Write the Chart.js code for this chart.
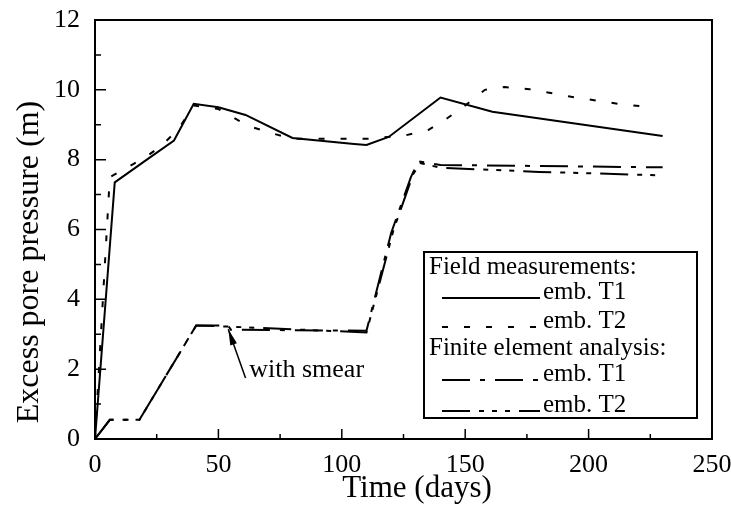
<!DOCTYPE html>
<html>
<head>
<meta charset="utf-8">
<script src="https://cdn.jsdelivr.net/npm/chart.js@4.4.1/dist/chart.umd.min.js"></script>
<style>
  html, body { margin: 0; padding: 0; background: #ffffff; }
  #wrap { width: 731px; height: 514px; }
</style>
</head>
<body>
<div id="wrap"><canvas id="c" width="731" height="514"></canvas></div>
<script>
// ---- Data ----
const fieldT1Days = [0, 8, 20, 32, 40, 50, 61, 80, 105, 110, 119, 140, 161, 230];
const fieldT1Pres = [0, 7.35, 7.95, 8.55, 9.6, 9.5, 9.28, 8.62, 8.45, 8.42, 8.65, 9.78, 9.37, 8.68];

const fieldT2Days = [0, 6, 20, 27, 34, 40, 50, 62, 72, 80, 111, 126, 135, 143, 150, 158, 166, 176, 193, 212, 225];
const fieldT2Pres = [0, 7.5, 8.05, 8.4, 8.9, 9.55, 9.45, 8.97, 8.75, 8.6, 8.6, 8.7, 8.85, 9.2, 9.55, 10.0, 10.08, 10.02, 9.8, 9.6, 9.5];

const feT1Days = [0, 6, 18, 41, 54, 55, 110, 120, 128, 131, 140, 230];
const feT1Pres = [0, 0.55, 0.55, 3.25, 3.25, 3.13, 3.1, 5.9, 7.5, 7.95, 7.85, 7.78];

const feT2Days = [0, 6, 18, 41, 54, 110, 121, 129, 132, 140, 180, 230];
const feT2Pres = [0, 0.55, 0.55, 3.25, 3.22, 3.05, 6.0, 7.6, 7.9, 7.77, 7.65, 7.55];

const xMajorTicks = [0, 50, 100, 150, 200, 250];
const xMinorTicks = [25, 75, 125, 175, 225];
const yMajorTicks = [0, 2, 4, 6, 8, 10, 12];
const yMinorTicks = [1, 3, 5, 7, 9, 11];

const xTitle = 'Time (days)';
const yTitle = 'Excess pore pressure (m)';
const legendHeads = ['Field measurements:', 'Finite element analysis:'];
const legendLabels = ['emb. T1', 'emb. T2', 'emb. T1', 'emb. T2'];
const smearText = 'with smear';
const smearArrowTip = [54, 3.14];
const smearArrowTail = [61, 1.75];
const smearTextAt = [62.5, 1.78];

// ---- Styles ----
const SERIF = "'Liberation Serif', 'Times New Roman', serif";
const dashField2 = [6, 16];
const dashFE1 = [28, 10, 5, 10];
const dashFE2 = [28, 9, 5, 8, 5, 8, 5, 9];

function pts(xs, ys) { return xs.map((x, i) => ({ x: x, y: ys[i] })); }

const framePlugin = {
  id: 'framePlugin',
  afterDatasetsDraw(chart) {
    const ctx = chart.ctx;
    const a = chart.chartArea;
    const xs = chart.scales.x, ys = chart.scales.y;
    ctx.save();
    ctx.strokeStyle = '#000';
    ctx.lineWidth = 2;
    ctx.setLineDash([]);
    ctx.strokeRect(a.left, a.top, a.right - a.left, a.bottom - a.top);
    ctx.lineWidth = 1.5;
    ctx.beginPath();
    xMajorTicks.forEach(v => { const p = xs.getPixelForValue(v); ctx.moveTo(p, a.bottom); ctx.lineTo(p, a.bottom - 10); });
    xMinorTicks.forEach(v => { const p = xs.getPixelForValue(v); ctx.moveTo(p, a.bottom); ctx.lineTo(p, a.bottom - 5); });
    yMajorTicks.forEach(v => { const p = ys.getPixelForValue(v); ctx.moveTo(a.left, p); ctx.lineTo(a.left + 11, p); });
    yMinorTicks.forEach(v => { const p = ys.getPixelForValue(v); ctx.moveTo(a.left, p); ctx.lineTo(a.left + 6, p); });
    ctx.stroke();

    // axis titles
    ctx.fillStyle = '#000';
    ctx.font = '31px ' + SERIF;
    ctx.textAlign = 'center';
    ctx.textBaseline = 'alphabetic';
    ctx.fillText(xTitle, 417, 497);
    ctx.save();
    ctx.translate(38, 262);
    ctx.rotate(-Math.PI / 2);
    ctx.font = '32px ' + SERIF;
    ctx.fillText(yTitle, 0, 0);
    ctx.restore();

    // "with smear" annotation
    const tx = xs.getPixelForValue(smearArrowTip[0]), ty = ys.getPixelForValue(smearArrowTip[1]);
    const sx = xs.getPixelForValue(smearArrowTail[0]), sy = ys.getPixelForValue(smearArrowTail[1]);
    ctx.lineWidth = 1.5;
    ctx.beginPath(); ctx.moveTo(sx, sy); ctx.lineTo(tx, ty); ctx.stroke();
    const ang = Math.atan2(ty - sy, tx - sx);
    ctx.beginPath();
    ctx.moveTo(tx, ty);
    ctx.lineTo(tx - 16 * Math.cos(ang) + 3.5 * Math.sin(ang), ty - 16 * Math.sin(ang) - 3.5 * Math.cos(ang));
    ctx.lineTo(tx - 16 * Math.cos(ang) - 3.5 * Math.sin(ang), ty - 16 * Math.sin(ang) + 3.5 * Math.cos(ang));
    ctx.closePath(); ctx.fill();
    ctx.font = '26px ' + SERIF;
    ctx.textAlign = 'left';
    ctx.fillText(smearText, xs.getPixelForValue(smearTextAt[0]), ys.getPixelForValue(smearTextAt[1]));

    // legend box
    const L = 424, T = 252, R = 697, B = 418;
    ctx.fillStyle = '#fff';
    ctx.fillRect(L, T, R - L, B - T);
    ctx.fillStyle = '#000';
    ctx.lineWidth = 2;
    ctx.strokeRect(L, T, R - L, B - T);
    ctx.font = '25px ' + SERIF;
    ctx.textAlign = 'left';
    ctx.fillText(legendHeads[0], 429, 274);
    ctx.fillText(legendHeads[1], 429, 355);
    const rowsY = [299, 328, 381, 412];
    const dashes = [[], dashField2, dashFE1, dashFE2];
    rowsY.forEach((y, i) => {
      ctx.save();
      ctx.setLineDash(dashes[i]);
      ctx.lineWidth = 2;
      ctx.beginPath(); ctx.moveTo(442, y - 1); ctx.lineTo(540, y - 1); ctx.stroke();
      ctx.restore();
      ctx.fillText(legendLabels[i], 543, y);
    });
    ctx.restore();
  }
};

new Chart(document.getElementById('c'), {
  type: 'line',
  data: {
    datasets: [
      { label: 'Field emb. T1', data: pts(fieldT1Days, fieldT1Pres), borderColor: '#000', borderWidth: 2, pointRadius: 0, tension: 0, fill: false },
      { label: 'Field emb. T2', data: pts(fieldT2Days, fieldT2Pres), borderColor: '#000', borderWidth: 2, borderDash: dashField2, pointRadius: 0, tension: 0, fill: false },
      { label: 'FE emb. T1', data: pts(feT1Days, feT1Pres), borderColor: '#000', borderWidth: 2, borderDash: dashFE1, pointRadius: 0, tension: 0, fill: false },
      { label: 'FE emb. T2', data: pts(feT2Days, feT2Pres), borderColor: '#000', borderWidth: 2, borderDash: dashFE2, pointRadius: 0, tension: 0, fill: false }
    ]
  },
  options: {
    responsive: false,
    animation: false,
    clip: false,
    layout: { padding: { top: 20, right: 19, left: 0, bottom: 0 } },
    plugins: { legend: { display: false }, tooltip: { enabled: false } },
    scales: {
      x: {
        type: 'linear', min: 0, max: 250,
        afterFit: s => { s.height = 75; s.paddingLeft = 0; s.paddingRight = 0; },
        afterBuildTicks: s => { s.ticks = xMajorTicks.map(v => ({ value: v })); },
        grid: { display: false, drawTicks: false },
        border: { display: false },
        ticks: { color: '#000', font: { family: SERIF, size: 26 }, padding: 11, maxRotation: 0 }
      },
      y: {
        type: 'linear', min: 0, max: 12,
        afterFit: s => { s.width = 95; s.paddingTop = 0; s.paddingBottom = 0; },
        afterBuildTicks: s => { s.ticks = yMajorTicks.map(v => ({ value: v })); },
        grid: { display: false, drawTicks: false },
        border: { display: false },
        ticks: { color: '#000', font: { family: SERIF, size: 26 }, padding: 15 }
      }
    }
  },
  plugins: [framePlugin]
});
</script>
</body>
</html>
